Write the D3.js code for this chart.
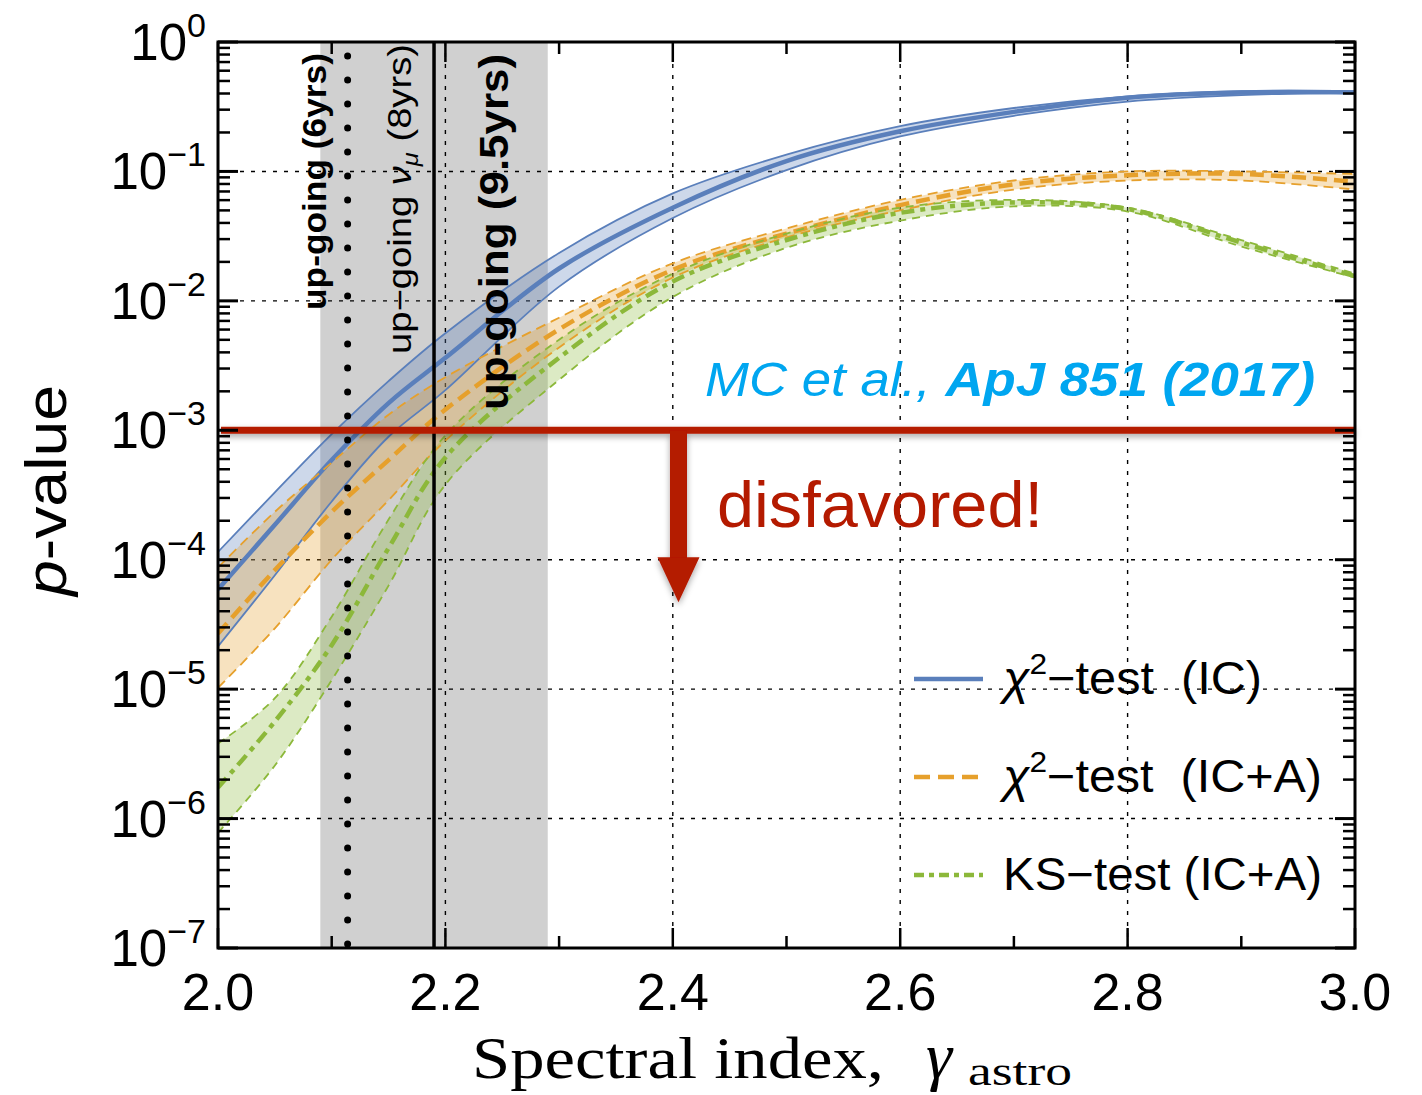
<!DOCTYPE html>
<html>
<head>
<meta charset="utf-8">
<script src="https://cdn.jsdelivr.net/npm/d3@7"></script>
<style>
  body { margin: 0; background: #fff; }
  svg { display: block; font-family: "Liberation Sans", Arial, sans-serif; }
  text { white-space: pre; }
</style>
</head>
<body>
<svg width="1422" height="1095"></svg>
<script>
const gamma = [2.0, 2.05, 2.1, 2.15, 2.2, 2.3, 2.4, 2.5, 2.6, 2.7, 2.8, 2.9, 3.0];

// log10(p-value): upper edge / central / lower edge of each band
const chi2IcHi  = [-3.94, -3.48, -3.03, -2.62, -2.25, -1.63, -1.17, -0.87, -0.65, -0.51, -0.42, -0.38, -0.38];
const chi2IcMid = [-4.23, -3.73, -3.23, -2.79, -2.44, -1.75, -1.28, -0.92, -0.69, -0.54, -0.43, -0.39, -0.39];
const chi2IcLo  = [-4.67, -4.12, -3.55, -3.05, -2.69, -1.89, -1.36, -0.99, -0.73, -0.57, -0.46, -0.41, -0.39];

const chi2IcaHi  = [-4.06, -3.63, -3.25, -2.88, -2.59, -2.13, -1.71, -1.44, -1.22, -1.07, -1.00, -1.00, -1.02];
const chi2IcaMid = [-4.57, -4.08, -3.63, -3.23, -2.84, -2.22, -1.76, -1.48, -1.26, -1.10, -1.03, -1.02, -1.08];
const chi2IcaLo  = [-4.99, -4.53, -4.00, -3.54, -3.08, -2.36, -1.82, -1.51, -1.30, -1.14, -1.07, -1.07, -1.14];

const ksIcaHi  = [-5.42, -5.07, -4.44, -3.69, -3.04, -2.30, -1.79, -1.48, -1.28, -1.22, -1.28, -1.53, -1.79];
const ksIcaMid = [-5.76, -5.25, -4.66, -3.91, -3.21, -2.44, -1.85, -1.53, -1.32, -1.24, -1.29, -1.55, -1.81];
const ksIcaLo  = [-6.11, -5.59, -4.93, -4.20, -3.42, -2.61, -1.97, -1.59, -1.38, -1.27, -1.31, -1.58, -1.82];

// up-going muon analyses (vertical markers) and shaded range
const upgoingBand = [2.09, 2.29];
const upgoing6yr = 2.114;
const upgoing8yr = 2.19;
const upgoing95yr = 2.28;

const pThreshold = 1e-3;
const yExponents = [0, -1, -2, -3, -4, -5, -6, -7];
const xTickLabels = ["2.0", "2.2", "2.4", "2.6", "2.8", "3.0"];

window.onload = main;

function main() {
    var blue = "#5a7fbb", orange = "#e6a02c", green = "#8cb83a", red = "#b41a00", cite = "#00a6f0";

    var svg = d3.select("svg");
    var pl = 218, pr = 1355, pt = 42, pb = 948; // plot box

    var x = d3.scaleLinear().domain([2, 3]).range([pl, pr]);
    var y = d3.scaleLog().domain([1e-7, 1]).range([pb, pt]);

    var defs = svg.append("defs");
    defs.append("clipPath").attr("id", "plot")
        .append("rect").attr("x", pl).attr("y", pt).attr("width", pr - pl).attr("height", pb - pt);
    var shadow = defs.append("filter").attr("id", "shadow")
        .attr("x", "-20%").attr("y", "-20%").attr("width", "140%").attr("height", "160%");
    shadow.append("feDropShadow").attr("dx", 0).attr("dy", 3).attr("stdDeviation", 3)
        .attr("flood-color", "#000").attr("flood-opacity", 0.35);
    var blur = defs.append("filter").attr("id", "blur")
        .attr("x", "-100%").attr("y", "-5%").attr("width", "300%").attr("height", "110%");
    blur.append("feDropShadow").attr("dx", 0).attr("dy", 0).attr("stdDeviation", 4)
        .attr("flood-color", "#000").attr("flood-opacity", 0.45);

    var g = svg.append("g").attr("clip-path", "url(#plot)");

    // shaded up-going range
    g.append("rect")
        .attr("x", x(upgoingBand[0])).attr("y", pt)
        .attr("width", x(upgoingBand[1]) - x(upgoingBand[0])).attr("height", pb - pt)
        .attr("fill", "#d0d0d0");

    // grid
    g.selectAll("line.gx").data([2.2, 2.4, 2.6, 2.8]).enter().append("line")
        .attr("x1", d => x(d)).attr("x2", d => x(d)).attr("y1", pt).attr("y2", pb)
        .attr("stroke", "#000").attr("stroke-width", 1.4).attr("stroke-dasharray", "4,7");
    g.selectAll("line.gy").data(yExponents.slice(1, -1)).enter().append("line")
        .attr("x1", pl).attr("x2", pr).attr("y1", d => y(Math.pow(10, d))).attr("y2", d => y(Math.pow(10, d)))
        .attr("stroke", "#000").attr("stroke-width", 1.4).attr("stroke-dasharray", "4,7");

    // bands and curves
    var series = [
        { hi: chi2IcHi, mid: chi2IcMid, lo: chi2IcLo, color: blue, midDash: null, edgeDash: null },
        { hi: chi2IcaHi, mid: chi2IcaMid, lo: chi2IcaLo, color: orange, midDash: "14,7", edgeDash: "10,6" },
        { hi: ksIcaHi, mid: ksIcaMid, lo: ksIcaLo, color: green, midDash: "13,6,5,6", edgeDash: "8,6" }
    ];

    var curve = d3.curveCatmullRom.alpha(0.5);
    var area = d3.area()
        .x((d, i) => x(gamma[i]))
        .y0(d => y(Math.pow(10, d[0])))
        .y1(d => y(Math.pow(10, d[1])))
        .curve(curve);
    var line = d3.line()
        .x((d, i) => x(gamma[i]))
        .y(d => y(Math.pow(10, d)))
        .curve(curve);

    series.forEach(function (s) {
        g.append("path")
            .attr("d", area(d3.zip(s.lo, s.hi)))
            .attr("fill", s.color).attr("fill-opacity", 0.3);
    });
    series.forEach(function (s) {
        [s.hi, s.lo].forEach(function (edge) {
            g.append("path").attr("d", line(edge))
                .attr("fill", "none").attr("stroke", s.color).attr("stroke-width", 1.8)
                .attr("stroke-dasharray", s.edgeDash);
        });
        g.append("path").attr("d", line(s.mid))
            .attr("fill", "none").attr("stroke", s.color).attr("stroke-width", 4.5)
            .attr("stroke-dasharray", s.midDash);
    });

    // vertical markers
    g.append("line")
        .attr("x1", x(upgoing6yr)).attr("x2", x(upgoing6yr)).attr("y1", pt + 14).attr("y2", pb)
        .attr("stroke", "#000").attr("stroke-width", 7).attr("stroke-linecap", "round")
        .attr("stroke-dasharray", "0,24");
    g.append("line")
        .attr("x1", x(upgoing8yr)).attr("x2", x(upgoing8yr)).attr("y1", pt).attr("y2", pb)
        .attr("stroke", "#000").attr("stroke-width", 3.5);
    g.append("line")
        .attr("x1", x(upgoing95yr)).attr("x2", x(upgoing95yr)).attr("y1", pt + 28).attr("y2", pb)
        .attr("stroke", "#000").attr("stroke-width", 11).attr("stroke-dasharray", "25,28")
        .attr("filter", "url(#blur)");

    // rotated labels for markers
    function vlabel(xb, yStart, len, size, weight) {
        return svg.append("text")
            .attr("transform", "translate(" + xb + "," + yStart + ") rotate(-90)")
            .attr("font-size", size).attr("font-weight", weight)
            .attr("textLength", len).attr("lengthAdjust", "spacingAndGlyphs");
    }
    vlabel(326, 310, 257, 33, "bold").text("up-going (6yrs)");
    var t8 = vlabel(411, 354, 310, 33, "normal");
    t8.append("tspan").text("up\u2212going ");
    t8.append("tspan").attr("font-style", "italic").text("\u03bd");
    t8.append("tspan").attr("font-style", "italic").attr("font-size", 22).attr("dy", 7).text("\u03bc");
    t8.append("tspan").attr("dy", -7).text(" (8yrs)");
    vlabel(508, 410, 356, 40, "bold").text("up-going (9.5yrs)");

    // threshold line and arrow
    var yT = y(pThreshold);
    var redG = svg.append("g").attr("filter", "url(#shadow)");
    redG.append("line").attr("x1", pl + 3).attr("x2", pr).attr("y1", yT).attr("y2", yT)
        .attr("stroke", red).attr("stroke-width", 7);
    var ax = x(2.405);
    redG.append("rect").attr("x", ax - 8.5).attr("y", yT).attr("width", 17).attr("height", 130).attr("fill", red);
    redG.append("path")
        .attr("d", "M" + (ax - 21) + "," + (yT + 127) + "L" + (ax + 21) + "," + (yT + 127) + "L" + ax + "," + (yT + 172) + "Z")
        .attr("fill", red);

    svg.append("text").attr("x", 717).attr("y", 527)
        .attr("font-size", 64).attr("fill", red)
        .attr("textLength", 326).attr("lengthAdjust", "spacingAndGlyphs").text("disfavored!");

    var citeText = svg.append("text").attr("x", 705).attr("y", 396)
        .attr("font-size", 48).attr("font-style", "italic").attr("fill", cite)
        .attr("textLength", 610).attr("lengthAdjust", "spacingAndGlyphs");
    citeText.append("tspan").text("MC et al., ");
    citeText.append("tspan").attr("font-weight", "bold").text("ApJ 851 (2017)");

    // legend
    var legendItems = [
        { name: "\u2212test  (IC)", chi: true, color: blue, dash: null, yy: 679, len: 259 },
        { name: "\u2212test  (IC+A)", chi: true, color: orange, dash: "16,8", yy: 777, len: 319 },
        { name: "KS\u2212test (IC+A)", chi: false, color: green, dash: "10,5,5,5", yy: 875, len: 319 }
    ];
    legendItems.forEach(function (d) {
        svg.append("line").attr("x1", 914).attr("x2", 983).attr("y1", d.yy).attr("y2", d.yy)
            .attr("stroke", d.color).attr("stroke-width", 4.5).attr("stroke-dasharray", d.dash);
        var t = svg.append("text").attr("x", 1003).attr("y", d.yy + 15).attr("font-size", 46)
            .attr("textLength", d.len).attr("lengthAdjust", "spacingAndGlyphs");
        if (d.chi) {
            t.append("tspan").attr("font-style", "italic").text("\u03c7");
            t.append("tspan").attr("font-size", 30).attr("dy", -20).text("2");
            t.append("tspan").attr("dy", 20).text(d.name);
        } else {
            t.text(d.name);
        }
    });

    // frame and ticks
    var axes = svg.append("g").attr("stroke", "#000");
    axes.append("rect").attr("x", pl).attr("y", pt).attr("width", pr - pl).attr("height", pb - pt)
        .attr("fill", "none").attr("stroke-width", 3);

    d3.range(20, 31).forEach(function (k) {
        var v = k / 10, major = k % 2 === 0, len = major ? 20 : 12;
        axes.append("line").attr("x1", x(v)).attr("x2", x(v)).attr("y1", pb).attr("y2", pb - len).attr("stroke-width", 2.5);
        axes.append("line").attr("x1", x(v)).attr("x2", x(v)).attr("y1", pt).attr("y2", pt + len).attr("stroke-width", 2.5);
    });
    yExponents.forEach(function (e) {
        var yy = y(Math.pow(10, e));
        axes.append("line").attr("x1", pl).attr("x2", pl + 20).attr("y1", yy).attr("y2", yy).attr("stroke-width", 3);
        axes.append("line").attr("x1", pr).attr("x2", pr - 20).attr("y1", yy).attr("y2", yy).attr("stroke-width", 3);
        if (e < 0) {
            d3.range(2, 10).forEach(function (m) {
                var ym = y(m * Math.pow(10, e));
                axes.append("line").attr("x1", pl).attr("x2", pl + 12).attr("y1", ym).attr("y2", ym).attr("stroke-width", 2.5);
                axes.append("line").attr("x1", pr).attr("x2", pr - 12).attr("y1", ym).attr("y2", ym).attr("stroke-width", 2.5);
            });
        }
    });

    // tick labels
    yExponents.forEach(function (e) {
        var t = svg.append("text").attr("x", 206).attr("y", y(Math.pow(10, e)) + 18)
            .attr("text-anchor", "end").attr("font-size", 51);
        t.append("tspan").text("10");
        t.append("tspan").attr("font-size", 34).attr("dy", -23).text(e === 0 ? "0" : "\u2212" + (-e));
    });
    svg.selectAll("text.xt").data(xTickLabels).enter().append("text")
        .attr("x", d => x(+d)).attr("y", 1010).attr("text-anchor", "middle")
        .attr("font-size", 52).text(d => d);

    // axis titles
    var yl = svg.append("text").attr("transform", "translate(66,596) rotate(-90)")
        .attr("font-size", 58).attr("textLength", 211).attr("lengthAdjust", "spacingAndGlyphs");
    yl.append("tspan").attr("font-style", "italic").text("p");
    yl.append("tspan").text("-value");

    var serif = "'Liberation Serif', 'DejaVu Serif', serif";
    svg.append("text").attr("x", 472).attr("y", 1078).attr("font-family", serif)
        .attr("font-size", 60).attr("textLength", 412).attr("lengthAdjust", "spacingAndGlyphs")
        .text("Spectral index,");
    svg.append("text").attr("x", 926).attr("y", 1078).attr("font-family", serif)
        .attr("font-size", 66).attr("font-style", "italic").text("\u03b3");
    svg.append("text").attr("x", 968).attr("y", 1085).attr("font-family", serif)
        .attr("font-size", 40).attr("textLength", 104).attr("lengthAdjust", "spacingAndGlyphs").text("astro");
}
</script>
</body>
</html>
